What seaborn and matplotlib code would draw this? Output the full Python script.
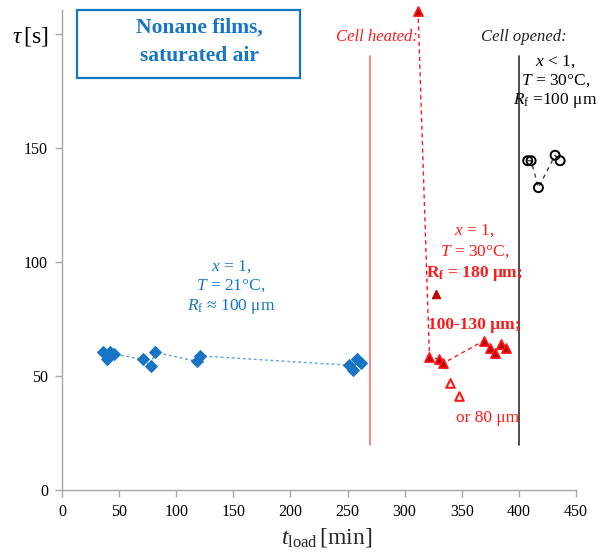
import matplotlib
matplotlib.use("Agg")
import matplotlib.pyplot as plt
from matplotlib.patches import Rectangle
import seaborn as sns
import pandas as pd

# ---- data ----
blue_t = [35.6, 39.4, 42.3, 45.3, 70.7, 77.7, 81.2, 118.0, 121.1, 251.6, 255.1, 258.6, 261.6]
blue_tau = [60.5, 57.3, 60.5, 59.6, 57.3, 54.5, 60.5, 56.4, 58.8, 54.7, 52.6, 57.3, 55.6]

red_t = [311.7, 321.7, 329.8, 333.9, 369.5, 374.8, 379.2, 384.4, 388.8]
red_tau = [210.0, 58.5, 57.3, 55.6, 65.5, 62.4, 60.0, 63.9, 62.4]

red_single_t = [327.2]
red_single_tau = [86.0]

red_open_t = [340.0, 347.9]
red_open_tau = [46.8, 41.2]

black_t = [407.7, 410.7, 417.1, 431.7, 436.1]
black_tau = [144.4, 144.4, 132.6, 146.8, 144.4]

x_ticks = [0, 50, 100, 150, 200, 250, 300, 350, 400, 450]
y_ticks = [0, 50, 100, 150, 200]
y_ticklabels = ["0", "50", "100", "150", r"$\tau\,$[s]"]

# ---- style ----
sns.set_theme(style="white")
plt.rcParams["font.family"] = ["Liberation Serif", "DejaVu Serif"]
plt.rcParams["mathtext.fontset"] = "custom"
plt.rcParams["mathtext.rm"] = "Liberation Serif"
plt.rcParams["mathtext.it"] = "Liberation Serif:italic"
plt.rcParams["mathtext.bf"] = "Liberation Serif:bold"

fig = plt.figure(figsize=(6.04, 5.54), dpi=100)
ax = fig.add_axes([62 / 604, 1 - 490 / 554, (576 - 62) / 604, (490 - 10) / 554])

BLUE = "#1874C4"
RED = "#FF1A1A"
DRED = "#C00000"

df_b = pd.DataFrame({"t": blue_t, "tau": blue_tau})
df_r = pd.DataFrame({"t": red_t, "tau": red_tau})
df_k = pd.DataFrame({"t": black_t, "tau": black_tau})

# connecting dashed lines
sns.lineplot(data=df_b, x="t", y="tau", ax=ax, sort=False, color="#5AA0DC",
             linestyle=(0, (2, 2)), linewidth=1.0)
sns.lineplot(data=df_r, x="t", y="tau", ax=ax, sort=False, color=RED,
             linestyle=(0, (3, 2.5)), linewidth=1.0)
sns.lineplot(data=df_k, x="t", y="tau", ax=ax, sort=False, color="#404040",
             linestyle=(0, (3, 3)), linewidth=1.0)

# markers
sns.scatterplot(data=df_b, x="t", y="tau", ax=ax, marker="D", s=36,
                color=BLUE, edgecolor=BLUE, linewidth=0.8, zorder=3)
sns.scatterplot(data=df_r, x="t", y="tau", ax=ax, marker="^", s=44,
                color=DRED, edgecolor=RED, linewidth=1.2, zorder=3, clip_on=False)
sns.scatterplot(x=red_single_t, y=red_single_tau, ax=ax, marker="^", s=36,
                color=DRED, edgecolor=DRED, linewidth=0.8, zorder=3)
sns.scatterplot(x=red_open_t, y=red_open_tau, ax=ax, marker="^", s=38,
                facecolor="white", edgecolor=RED, linewidth=1.5, zorder=3)
sns.scatterplot(data=df_k, x="t", y="tau", ax=ax, marker="o", s=42,
                facecolor="none", edgecolor="black", linewidth=1.4, zorder=3)

# vertical event lines
ax.plot([270, 270], [19.7, 190.4], color="#F47C7C", linewidth=1.3)
ax.plot([400, 400], [19.7, 190.4], color="#404040", linewidth=1.3)

# axes
ax.set_xlim(0, 450)
ax.set_ylim(0, 210.5)
ax.set_xticks(x_ticks)
ax.set_xticklabels([str(v) for v in x_ticks], fontsize=11.5)
ax.set_yticks(y_ticks)
ax.set_yticklabels(y_ticklabels)
for i, lab in enumerate(ax.get_yticklabels()):
    lab.set_fontsize(17 if i == len(y_ticks) - 1 else 11.5)
ax.set_xlabel(r"$t_{\rm load}\,$[min]", fontsize=17, labelpad=4)
ax.xaxis.set_label_coords(0.515, -0.075)
ax.set_ylabel("")
for s in ["top", "right"]:
    ax.spines[s].set_visible(False)
for s in ["left", "bottom"]:
    ax.spines[s].set_color("#A6A6A6")
    ax.spines[s].set_linewidth(1.0)
ax.tick_params(axis="both", direction="out", length=5, width=1, color="#A6A6A6",
               labelcolor="black", pad=5, bottom=True, left=True)

# title box
fig.patches.append(Rectangle((77 / 604, 1 - 78 / 554), (300 - 77) / 604, (78 - 10) / 554,
                             transform=fig.transFigure, facecolor="white",
                             edgecolor="#1874C4", linewidth=1.6, zorder=5))
fig.text(199.5 / 604, 1 - 42 / 554, "Nonane films,\nsaturated air", color="#1874C4",
         fontsize=15.5, fontweight="bold", ha="center", va="center", linespacing=1.55,
         zorder=6)

# annotations (data coordinates)
ax.text(311.5, 198.5, "Cell heated:", color=RED, fontsize=12, style="italic",
        ha="right", va="center")
ax.text(404.6, 198.5, "Cell opened:", color="#222222", fontsize=12, style="italic",
        ha="center", va="center")
ax.text(432, 179, "$x$ < 1,\n$T$ = 30°C,\n$R_{\\rm f}$ =100 μm", color="black",
        fontsize=12.5, ha="center", va="center", linespacing=1.15)
ax.text(148, 89, "$x$ = 1,\n$T$ = 21°C,\n$R_{\\rm f}$ ≈ 100 μm", color=BLUE,
        fontsize=12.5, ha="center", va="center", linespacing=1.19)
ax.text(361, 109, "$x$ = 1,\n$T$ = 30°C,", color=RED,
        fontsize=12.5, ha="center", va="center", linespacing=1.36)
ax.text(361, 95, "$\\mathbf{R}_{\\mathbf{f}}$ = 180 μm;", color=RED, fontsize=12.5,
        fontweight="bold", ha="center", va="center")
ax.text(361, 72.4, "100-130 μm;", color=RED, fontsize=12.5, fontweight="bold",
        ha="center", va="center")
ax.text(373, 31.6, "or 80 μm", color=RED, fontsize=12.5, ha="center", va="center")

fig.savefig("out.png", dpi=100)
